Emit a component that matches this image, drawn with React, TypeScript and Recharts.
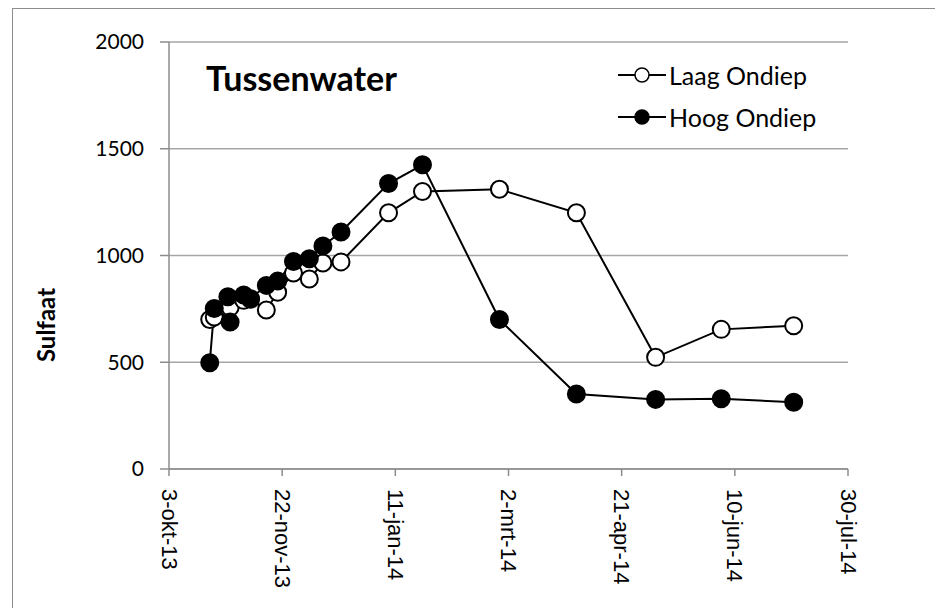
import React from 'react';
import { LineChart, Line, XAxis, YAxis, CartesianGrid, Legend } from 'recharts';

// sample dates (shared by both series)
const sampleDates = [
  '2013-10-21', '2013-10-23', '2013-10-29', '2013-10-30', '2013-11-05', '2013-11-08',
  '2013-11-15', '2013-11-20', '2013-11-27', '2013-12-04', '2013-12-10', '2013-12-18',
  '2014-01-08', '2014-01-23', '2014-02-26', '2014-04-01', '2014-05-06', '2014-06-04',
  '2014-07-06',
];

const laagOndiep = [700, 712, 755, 757, 790, 795, 745, 828, 918, 890, 965, 970, 1200, 1300, 1310, 1200, 523, 654, 671];
const hoogOndiep = [498, 752, 807, 688, 815, 798, 860, 880, 972, 985, 1045, 1110, 1337, 1425, 700, 351, 326, 329, 313];

const xTickLabels = ['3-okt-13', '22-nov-13', '11-jan-14', '2-mrt-14', '21-apr-14', '10-jun-14', '30-jul-14'];
const xTicks = [0, 50, 100, 150, 200, 250, 300];
const yTicks = [0, 500, 1000, 1500, 2000];

const START = Date.UTC(2013, 9, 3);
const toDay = (s: string) => {
  const [y, m, d] = s.split('-').map(Number);
  return Math.round((Date.UTC(y, m - 1, d) - START) / 86400000);
};

const data = sampleDates.map((d, i) => ({
  day: toDay(d),
  laag: laagOndiep[i],
  hoog: hoogOndiep[i],
}));

const FONT = 'Lato, "Open Sans", sans-serif';

const XTick = (props: any) => {
  const { x, y, index } = props;
  return (
    <text
      x={x}
      y={y}
      transform={`rotate(90, ${x}, ${y})`}
      textAnchor="start"
      dominantBaseline="central"
      fontFamily='"Liberation Sans", Arial, sans-serif'
      fontSize={22}
      fill="#000"
    >
      {xTickLabels[index]}
    </text>
  );
};

const LegendContent = () => {
  const rows = [
    { name: 'Laag Ondiep', fill: '#fff' },
    { name: 'Hoog Ondiep', fill: '#000' },
  ];
  return (
    <div style={{ fontFamily: FONT, fontSize: 25, color: '#000' }}>
      {rows.map((r) => (
        <div key={r.name} style={{ display: 'flex', alignItems: 'center', height: 42 }}>
          <svg width={50} height={20}>
            <line x1={0} y1={10} x2={48} y2={10} stroke="#000" strokeWidth={2} />
            <circle cx={24} cy={10} r={7} fill={r.fill} stroke="#000" strokeWidth={1.5} />
          </svg>
          <span style={{ marginLeft: 1 }}>{r.name}</span>
        </div>
      ))}
    </div>
  );
};

export default function App() {
  return (
    <div style={{ position: 'absolute', left: 0, top: 0, width: 935, height: 608, background: '#fff' }}>
      <div
        style={{
          position: 'absolute', left: 12, top: 8, width: 930, height: 610,
          border: '1px solid #8c8c8c', boxSizing: 'border-box',
        }}
      />
      <LineChart
        width={935}
        height={608}
        data={data}
        margin={{ top: 42, right: 87, left: 20, bottom: 39 }}
        style={{ position: 'absolute', left: 0, top: 0 }}
      >
        <CartesianGrid vertical={false} stroke="#a6a6a6" strokeWidth={1.3} />
        <XAxis
          dataKey="day"
          type="number"
          domain={[0, 300]}
          ticks={xTicks}
          interval={0}
          height={100}
          axisLine={{ stroke: '#8c8c8c', strokeWidth: 1.5 }}
          tickLine={{ stroke: '#8c8c8c', strokeWidth: 1.5 }}
          tickSize={7}
          tickMargin={13}
          tick={<XTick />}
        />
        <YAxis
          type="number"
          domain={[0, 2000]}
          ticks={yTicks}
          width={149}
          axisLine={{ stroke: '#8c8c8c', strokeWidth: 1.5 }}
          tickLine={{ stroke: '#8c8c8c', strokeWidth: 1.5 }}
          tickSize={9}
          tickMargin={16}
          tick={{ fontFamily: FONT, fontSize: 21, fill: '#000' }}
          label={{
            content: () => (
              <text
                x={45}
                y={325}
                transform="rotate(-90, 45, 325)"
                textAnchor="middle"
                dominantBaseline="central"
                fontFamily={FONT}
                fontWeight="bold"
                fontSize={24}
                fill="#000"
              >
                Sulfaat
              </text>
            ),
          }}
        />
        <Legend
          layout="horizontal"
          verticalAlign="middle"
          align="center"
          content={<LegendContent />}
          wrapperStyle={{ top: 54, left: 618, width: 250 }}
        />
        <Line
          dataKey="laag"
          name="Laag Ondiep"
          stroke="#000"
          strokeWidth={2}
          dot={{ r: 8.5, fill: '#fff', stroke: '#000', strokeWidth: 2 }}
          activeDot={false}
          isAnimationActive={false}
        />
        <Line
          dataKey="hoog"
          name="Hoog Ondiep"
          stroke="#000"
          strokeWidth={2}
          dot={{ r: 8.5, fill: '#000', stroke: '#000', strokeWidth: 2 }}
          activeDot={false}
          isAnimationActive={false}
        />
      </LineChart>
      <div
        style={{
          position: 'absolute', left: 206, top: 57, fontFamily: FONT,
          fontWeight: 'bold', fontSize: 34, color: '#000',
        }}
      >
        Tussenwater
      </div>
    </div>
  );
}
